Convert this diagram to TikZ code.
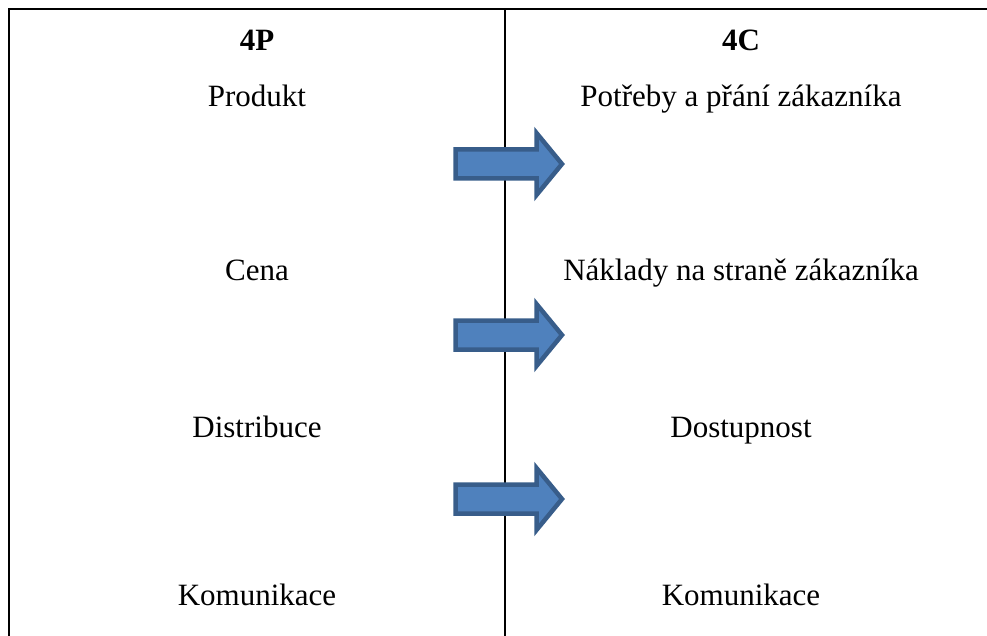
\documentclass[tikz,border=0pt]{standalone}
\usepackage{fontspec}
\setmainfont{Liberation Serif}
\definecolor{arrfill}{HTML}{4F81BD}
\definecolor{arrline}{HTML}{385D8A}
\begin{document}
\begin{tikzpicture}[x=1pt,y=-1pt,
  cell/.style={anchor=base,inner sep=0pt,font=\fontsize{31}{36}\selectfont},
  head/.style={cell,font=\fontsize{31}{36}\selectfont\bfseries},
  rule/.style={line width=1.6pt,black},
  blockarrow/.style={fill=arrfill,draw=arrline,line width=4.5pt,line join=miter}]
\useasboundingbox (0,0) rectangle (987,636);
\coordinate (tl) at (9,9);
\coordinate (tr) at (987,9);
\coordinate (bl) at (9,636);
\coordinate (mt) at (505,9);
\coordinate (mb) at (505,636);
\draw[rule] (bl) -- (tl) -- (tr);
\draw[rule] (mt) -- (mb);
% arrows
\foreach \ty in {164,335,499}{
  \draw[blockarrow] (455.5,\ty-14.5) -- (536.5,\ty-14.5) -- (536.5,\ty-31) -- (562,\ty)
    -- (536.5,\ty+31) -- (536.5,\ty+14.5) -- (455.5,\ty+14.5) -- cycle;
}
% left column
\node[head] (h4p) at (257,51) {4P};
\node[cell] (l1) at (257,107) {Produkt};
\node[cell] (l2) at (257,280) {Cena};
\node[cell] (l3) at (257,437) {Distribuce};
\node[cell] (l4) at (257,605) {Komunikace};
% right column
\node[head] (h4c) at (741,51) {4C};
\node[cell] (r1) at (741,107) {Potřeby a přání zákazníka};
\node[cell] (r2) at (741,280) {Náklady na straně zákazníka};
\node[cell] (r3) at (741,437) {Dostupnost};
\node[cell] (r4) at (741,605) {Komunikace};
\end{tikzpicture}
\end{document}
